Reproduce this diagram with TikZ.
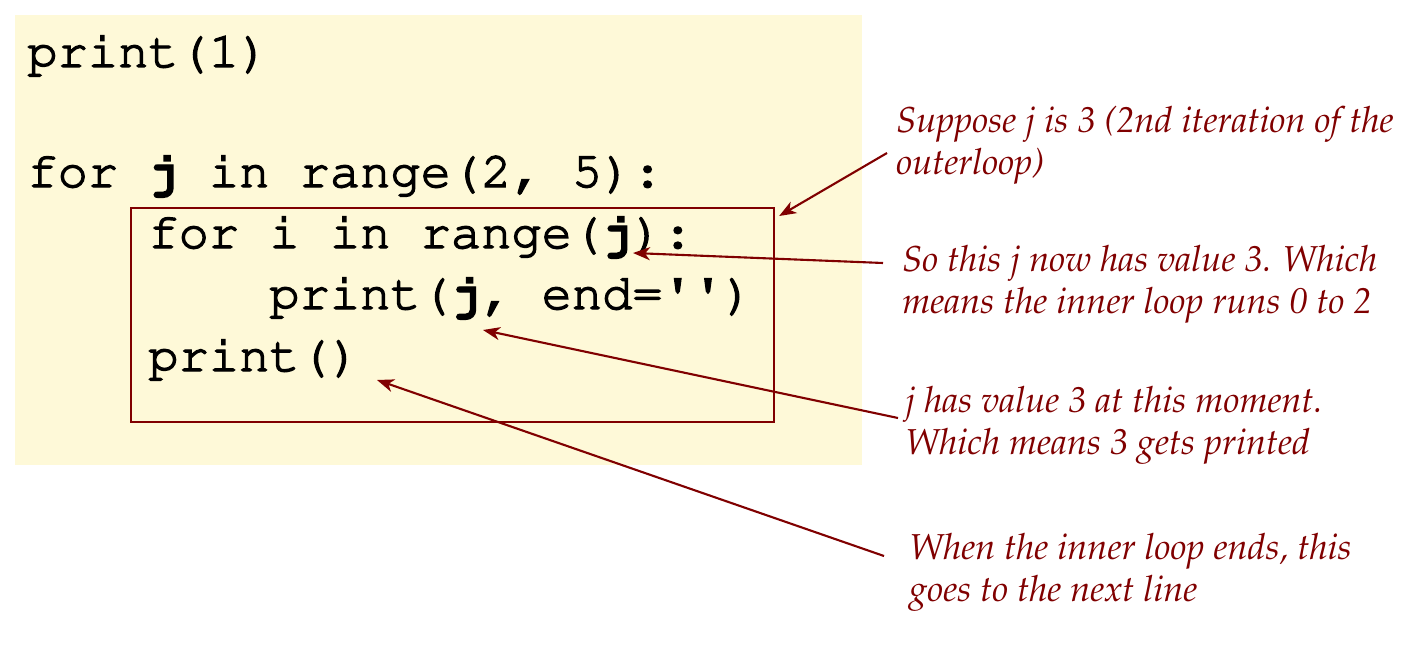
\documentclass[tikz,border=0pt]{standalone}
\usepackage[T1,TU]{fontenc}
\usepackage{textcomp}
\usetikzlibrary{arrows.meta}
\definecolor{notered}{RGB}{128,0,0}
\definecolor{codebg}{RGB}{254,249,216}
\newcommand{\codefont}{\fontencoding{T1}\fontfamily{pcr}\fontsize{28.7}{34}\selectfont}
\newcommand{\notefont}{\fontencoding{T1}\fontfamily{ppl}\fontshape{it}\fontsize{20.5}{23.9}\selectfont}
\tikzset{
  code/.style={anchor=base west, inner sep=0pt, font=\codefont,
    execute at begin node={\special{pdf:literal direct 2 Tr 0.8 w}},
    execute at end node={\special{pdf:literal direct 0 Tr 0.4 w}}},
  note/.style={anchor=base west, inner sep=0pt, align=left, text=notered, font=\notefont},
  pointer/.style={-{Stealth[length=0.34cm,width=0.26cm,inset=0.1cm]}, draw=notered, line width=1.2pt},
}
\begin{document}
\begin{tikzpicture}[x=0.02cm,y=-0.02cm]
\useasboundingbox (0,0) rectangle (1425,652);
\fill[codebg] (15,15) rectangle (862,465);
% code lines
\node (l-print1) at (27,67) [code] {print(1)};
\node (l-outer) at (27,187) [code] {for \textbf{j} in range(2, 5):};
\node (l-inner) at (148,248) [code] {for i in range(\textbf{j}):};
\node (l-body) at (269,309) [code] {print(\textbf{j}, end=\textquotesingle\textquotesingle)};
\node (l-newline) at (148,371) [code] {print()};
\node (innerloop) at (130,207) [draw=notered, line width=1.3pt, anchor=north west, inner sep=0pt,
  minimum width=12.86cm, minimum height=4.28cm] {};
% notes (base = last line)
\node (n-outer) at (896,174) [note] {Suppose j is 3 (2nd iteration of the\\outerloop)};
\node (n-range) at (902,313) [note] {So this j now has value 3. Which\\means the inner loop runs 0 to 2};
\node (n-value) at (905,454) [note] {j has value 3 at this moment.\\Which means 3 gets printed};
\node (n-newline) at (909,601) [note] {When the inner loop ends, this\\goes to the next line};
% targets
\coordinate (t-range) at (633,253);
\coordinate (t-body) at (483,330);
\coordinate (t-newline) at (377,380);
\draw[pointer] ([shift={(-9,-21)}]n-outer.base west) -- ([shift={(4,9)}]innerloop.north east);
\draw[pointer] ([shift={(-19,-50)}]n-range.base west) -- (t-range);
\draw[pointer] ([shift={(-7,-36)}]n-value.base west) -- (t-body);
\draw[pointer] ([shift={(-25,-45)}]n-newline.base west) -- (t-newline);
\end{tikzpicture}
\end{document}
